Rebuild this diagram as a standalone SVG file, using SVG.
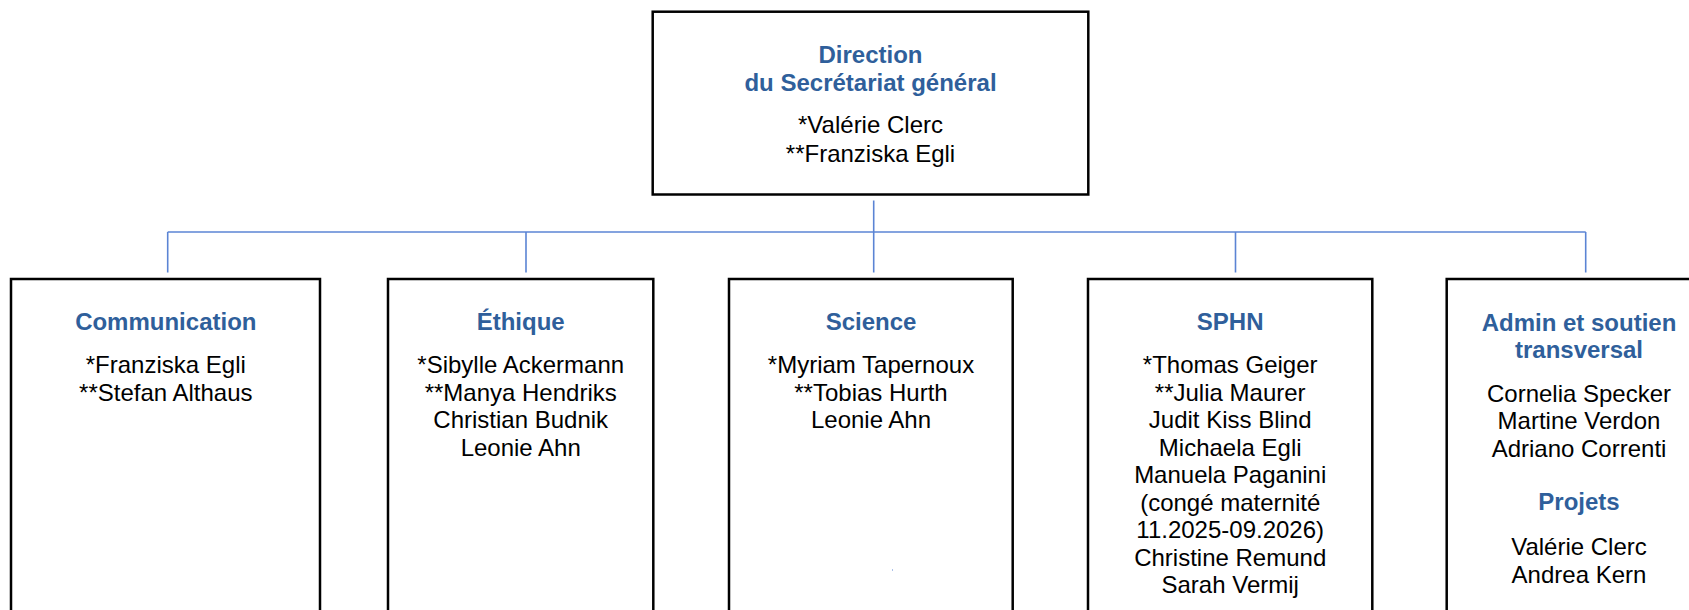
<svg xmlns="http://www.w3.org/2000/svg" width="1689" height="610" viewBox="0 0 1689 610">
<style>
.box{fill:#ffffff;stroke:#000000;stroke-width:2.5}
.t{font-family:"Liberation Sans",Arial,sans-serif;font-size:24px;font-weight:bold;fill:#2f5f9b;text-anchor:middle}
.n{font-family:"Liberation Sans",Arial,sans-serif;font-size:24px;fill:#000000;text-anchor:middle}
.c{fill:none;stroke:#5b84d4;stroke-width:1.6}
</style>
<rect width="1689" height="610" fill="#ffffff"/>
<g id="connectors">
<line class="c" x1="873.7" y1="200.5" x2="873.7" y2="232"/>
<line class="c" x1="167.7" y1="232" x2="1585.7" y2="232"/>
<line class="c" x1="167.7" y1="232" x2="167.7" y2="272.5"/>
<line class="c" x1="526" y1="232" x2="526" y2="272.5"/>
<line class="c" x1="873.7" y1="232" x2="873.7" y2="272.5"/>
<line class="c" x1="1235.5" y1="232" x2="1235.5" y2="272.5"/>
<line class="c" x1="1585.7" y1="232" x2="1585.7" y2="272.5"/>
</g>
<g id="direction">
<rect class="box" x="652.7" y="11.7" width="435.6" height="182.8"/>
<text class="t" x="870.5" y="63.3">Direction</text>
<text class="t" x="870.5" y="90.7">du Secrétariat général</text>
<text class="n" x="870.5" y="133.3">*Valérie Clerc</text>
<text class="n" x="870.5" y="161.7">**Franziska Egli</text>
</g>
<g id="communication">
<rect class="box" x="11" y="279" width="309" height="345"/>
<text class="t" x="165.8" y="330">Communication</text>
<text class="n" x="165.8" y="373.3">*Franziska Egli</text>
<text class="n" x="165.8" y="400.8">**Stefan Althaus</text>
</g>
<g id="ethique">
<rect class="box" x="388" y="279" width="265.3" height="345"/>
<text class="t" x="520.7" y="330">Éthique</text>
<text class="n" x="520.7" y="373.3">*Sibylle Ackermann</text>
<text class="n" x="520.7" y="400.8">**Manya Hendriks</text>
<text class="n" x="520.7" y="428.3">Christian Budnik</text>
<text class="n" x="520.7" y="455.8">Leonie Ahn</text>
</g>
<g id="science">
<rect class="box" x="729" y="279" width="283.7" height="345"/>
<text class="t" x="871" y="330">Science</text>
<text class="n" x="871" y="373.3">*Myriam Tapernoux</text>
<text class="n" x="871" y="400.8">**Tobias Hurth</text>
<text class="n" x="871" y="428.3">Leonie Ahn</text>
<rect x="892" y="569.5" width="1" height="1" fill="#5b84d4"/>
</g>
<g id="sphn">
<rect class="box" x="1088" y="279" width="284.3" height="345"/>
<text class="t" x="1230.2" y="330">SPHN</text>
<text class="n" x="1230.2" y="373.3">*Thomas Geiger</text>
<text class="n" x="1230.2" y="400.8">**Julia Maurer</text>
<text class="n" x="1230.2" y="428.3">Judit Kiss Blind</text>
<text class="n" x="1230.2" y="455.8">Michaela Egli</text>
<text class="n" x="1230.2" y="483.3">Manuela Paganini</text>
<text class="n" x="1230.2" y="510.8">(congé maternité</text>
<text class="n" x="1230.2" y="538.3">11.2025-09.2026)</text>
<text class="n" x="1230.2" y="565.8">Christine Remund</text>
<text class="n" x="1230.2" y="593.3">Sarah Vermij</text>
</g>
<g id="admin">
<rect class="box" x="1446.7" y="279" width="265" height="345"/>
<text class="t" x="1579" y="330.7">Admin et soutien</text>
<text class="t" x="1579" y="358.3">transversal</text>
<text class="n" x="1579" y="401.7">Cornelia Specker</text>
<text class="n" x="1579" y="429.3">Martine Verdon</text>
<text class="n" x="1579" y="456.7">Adriano Correnti</text>
<text class="t" x="1579" y="510">Projets</text>
<text class="n" x="1579" y="555">Valérie Clerc</text>
<text class="n" x="1579" y="582.7">Andrea Kern</text>
</g>
</svg>
